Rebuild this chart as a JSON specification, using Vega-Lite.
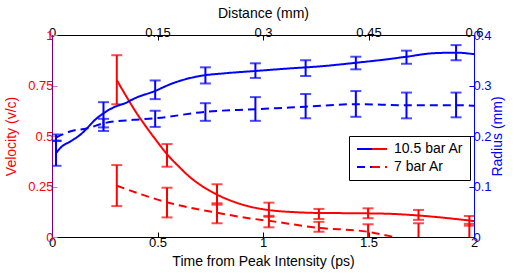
{
  "$schema": "https://vega.github.io/schema/vega-lite/v6.json",
  "width": 422,
  "height": 202,
  "autosize": {"type": "none"},
  "padding": {"left": 52, "top": 35, "right": 40, "bottom": 36},
  "config": {
    "font": "Liberation Sans",
    "view": {"stroke": null},
    "axis": {
      "grid": false,
      "labelFontSize": 13,
      "titleFontSize": 14,
      "titleFontWeight": "normal",
      "tickSize": -5,
      "labelPadding": 4,
      "domainWidth": 1,
      "labelFlush": false,
      "labelExpr": "'' + datum.value"
    }
  },
  "datasets": {
    "vcurve": [
      {"series": "10.5 bar Ar", "t": 0.307, "v": 0.777},
      {"series": "10.5 bar Ar", "t": 0.35, "v": 0.70},
      {"series": "10.5 bar Ar", "t": 0.40, "v": 0.615},
      {"series": "10.5 bar Ar", "t": 0.45, "v": 0.54},
      {"series": "10.5 bar Ar", "t": 0.50, "v": 0.47},
      {"series": "10.5 bar Ar", "t": 0.545, "v": 0.41},
      {"series": "10.5 bar Ar", "t": 0.60, "v": 0.35},
      {"series": "10.5 bar Ar", "t": 0.65, "v": 0.30},
      {"series": "10.5 bar Ar", "t": 0.70, "v": 0.26},
      {"series": "10.5 bar Ar", "t": 0.782, "v": 0.21},
      {"series": "10.5 bar Ar", "t": 0.86, "v": 0.175},
      {"series": "10.5 bar Ar", "t": 0.94, "v": 0.15},
      {"series": "10.5 bar Ar", "t": 1.03, "v": 0.133},
      {"series": "10.5 bar Ar", "t": 1.15, "v": 0.123},
      {"series": "10.5 bar Ar", "t": 1.26, "v": 0.119},
      {"series": "10.5 bar Ar", "t": 1.40, "v": 0.118},
      {"series": "10.5 bar Ar", "t": 1.50, "v": 0.117},
      {"series": "10.5 bar Ar", "t": 1.62, "v": 0.114},
      {"series": "10.5 bar Ar", "t": 1.73, "v": 0.107},
      {"series": "10.5 bar Ar", "t": 1.85, "v": 0.096},
      {"series": "10.5 bar Ar", "t": 2.0, "v": 0.079},
      {"series": "7 bar Ar", "t": 0.307, "v": 0.254},
      {"series": "7 bar Ar", "t": 0.545, "v": 0.172},
      {"series": "7 bar Ar", "t": 0.782, "v": 0.12},
      {"series": "7 bar Ar", "t": 0.94, "v": 0.092},
      {"series": "7 bar Ar", "t": 1.028, "v": 0.08},
      {"series": "7 bar Ar", "t": 1.257, "v": 0.046},
      {"series": "7 bar Ar", "t": 1.495, "v": 0.026},
      {"series": "7 bar Ar", "t": 1.62, "v": 0.0},
      {"series": "7 bar Ar", "t": 1.74, "v": -0.03},
      {"series": "7 bar Ar", "t": 2.0, "v": -0.08}
    ],
    "vbars": [
      {"series": "10.5 bar Ar", "t": 0.307, "lo": 0.657, "hi": 0.90},
      {"series": "10.5 bar Ar", "t": 0.545, "lo": 0.348, "hi": 0.46},
      {"series": "10.5 bar Ar", "t": 0.782, "lo": 0.16, "hi": 0.261},
      {"series": "10.5 bar Ar", "t": 1.028, "lo": 0.10, "hi": 0.17},
      {"series": "10.5 bar Ar", "t": 1.265, "lo": 0.089, "hi": 0.139},
      {"series": "10.5 bar Ar", "t": 1.498, "lo": 0.093, "hi": 0.142},
      {"series": "10.5 bar Ar", "t": 1.737, "lo": 0.085, "hi": 0.134},
      {"series": "10.5 bar Ar", "t": 1.978, "lo": 0.056, "hi": 0.104},
      {"series": "7 bar Ar", "t": 0.307, "lo": 0.153, "hi": 0.356},
      {"series": "7 bar Ar", "t": 0.545, "lo": 0.097, "hi": 0.244},
      {"series": "7 bar Ar", "t": 0.782, "lo": 0.068, "hi": 0.167},
      {"series": "7 bar Ar", "t": 1.028, "lo": 0.048, "hi": 0.105},
      {"series": "7 bar Ar", "t": 1.265, "lo": 0.026, "hi": 0.075},
      {"series": "7 bar Ar", "t": 1.498, "lo": -0.011, "hi": 0.063},
      {"series": "7 bar Ar", "t": 1.737, "lo": -0.12, "hi": 0.068},
      {"series": "7 bar Ar", "t": 1.978, "lo": -0.12, "hi": 0.065}
    ],
    "rcurve": [
      {"series": "10.5 bar Ar", "t": 0.019, "r": 0.166},
      {"series": "10.5 bar Ar", "t": 0.046, "r": 0.179},
      {"series": "10.5 bar Ar", "t": 0.086, "r": 0.189},
      {"series": "10.5 bar Ar", "t": 0.141, "r": 0.205},
      {"series": "10.5 bar Ar", "t": 0.165, "r": 0.215},
      {"series": "10.5 bar Ar", "t": 0.204, "r": 0.232},
      {"series": "10.5 bar Ar", "t": 0.244, "r": 0.245},
      {"series": "10.5 bar Ar", "t": 0.299, "r": 0.258},
      {"series": "10.5 bar Ar", "t": 0.347, "r": 0.265},
      {"series": "10.5 bar Ar", "t": 0.394, "r": 0.275},
      {"series": "10.5 bar Ar", "t": 0.481, "r": 0.288},
      {"series": "10.5 bar Ar", "t": 0.576, "r": 0.305},
      {"series": "10.5 bar Ar", "t": 0.703, "r": 0.319},
      {"series": "10.5 bar Ar", "t": 0.814, "r": 0.324},
      {"series": "10.5 bar Ar", "t": 0.972, "r": 0.329},
      {"series": "10.5 bar Ar", "t": 1.131, "r": 0.334},
      {"series": "10.5 bar Ar", "t": 1.273, "r": 0.338},
      {"series": "10.5 bar Ar", "t": 1.44, "r": 0.345},
      {"series": "10.5 bar Ar", "t": 1.59, "r": 0.352},
      {"series": "10.5 bar Ar", "t": 1.68, "r": 0.357},
      {"series": "10.5 bar Ar", "t": 1.81, "r": 0.364},
      {"series": "10.5 bar Ar", "t": 1.915, "r": 0.365},
      {"series": "10.5 bar Ar", "t": 2.0, "r": 0.362},
      {"series": "7 bar Ar", "t": 0.019, "r": 0.197},
      {"series": "7 bar Ar", "t": 0.094, "r": 0.21},
      {"series": "7 bar Ar", "t": 0.165, "r": 0.215},
      {"series": "7 bar Ar", "t": 0.244, "r": 0.225},
      {"series": "7 bar Ar", "t": 0.386, "r": 0.232},
      {"series": "7 bar Ar", "t": 0.489, "r": 0.235},
      {"series": "7 bar Ar", "t": 0.727, "r": 0.248},
      {"series": "7 bar Ar", "t": 0.964, "r": 0.253},
      {"series": "7 bar Ar", "t": 1.2, "r": 0.258},
      {"series": "7 bar Ar", "t": 1.44, "r": 0.263},
      {"series": "7 bar Ar", "t": 1.68, "r": 0.261},
      {"series": "7 bar Ar", "t": 1.915, "r": 0.261},
      {"series": "7 bar Ar", "t": 2.0, "r": 0.26}
    ],
    "rbars": [
      {"series": "10.5 bar Ar", "t": 0.019, "lo": 0.141, "hi": 0.19},
      {"series": "10.5 bar Ar", "t": 0.244, "lo": 0.217, "hi": 0.267},
      {"series": "10.5 bar Ar", "t": 0.489, "lo": 0.273, "hi": 0.31},
      {"series": "10.5 bar Ar", "t": 0.727, "lo": 0.304, "hi": 0.336},
      {"series": "10.5 bar Ar", "t": 0.964, "lo": 0.315, "hi": 0.344},
      {"series": "10.5 bar Ar", "t": 1.202, "lo": 0.319, "hi": 0.35},
      {"series": "10.5 bar Ar", "t": 1.44, "lo": 0.332, "hi": 0.357},
      {"series": "10.5 bar Ar", "t": 1.68, "lo": 0.343, "hi": 0.369},
      {"series": "10.5 bar Ar", "t": 1.915, "lo": 0.35, "hi": 0.38},
      {"series": "7 bar Ar", "t": 0.019, "lo": 0.191, "hi": 0.203},
      {"series": "7 bar Ar", "t": 0.244, "lo": 0.21, "hi": 0.234},
      {"series": "7 bar Ar", "t": 0.489, "lo": 0.218, "hi": 0.25},
      {"series": "7 bar Ar", "t": 0.727, "lo": 0.23, "hi": 0.265},
      {"series": "7 bar Ar", "t": 0.964, "lo": 0.23, "hi": 0.277},
      {"series": "7 bar Ar", "t": 1.202, "lo": 0.235, "hi": 0.283},
      {"series": "7 bar Ar", "t": 1.44, "lo": 0.238, "hi": 0.289},
      {"series": "7 bar Ar", "t": 1.68, "lo": 0.235, "hi": 0.286},
      {"series": "7 bar Ar", "t": 1.915, "lo": 0.237, "hi": 0.286}
    ],
    "dist": [{"d": 0}, {"d": 0.6}]
  },
  "layer": [
    {
      "encoding": {
        "x": {
          "field": "t", "type": "quantitative",
          "scale": {"domain": [0, 2], "nice": false, "zero": false},
          "axis": {"orient": "bottom", "title": "Time from Peak Intensity (ps)", "values": [0, 0.5, 1, 1.5, 2], "domainColor": "#000000", "tickColor": "#000000", "labelColor": "#000000", "titleColor": "#000000", "titlePadding": 5}
        }
      },
      "layer": [
        {
          "data": {"name": "vcurve"},
          "mark": {"type": "line", "color": "#ff0000", "strokeWidth": 2, "clip": true, "interpolate": "monotone"},
          "encoding": {
            "y": {"field": "v", "type": "quantitative", "title": "Velocity (v/c)",
              "scale": {"domain": [0, 1], "nice": false},
              "axis": {"orient": "left", "values": [0, 0.25, 0.5, 0.75, 1], "domainColor": "#800080", "tickColor": "#cc77cc", "labelColor": "#ff0000", "titleColor": "#ff0000", "titlePadding": 9}},
            "strokeDash": {"field": "series", "type": "nominal",
              "scale": {"domain": ["10.5 bar Ar", "7 bar Ar"], "range": [[1, 0], [8, 5]]},
              "legend": {"orient": "none", "legendX": 297, "legendY": 101, "title": null, "symbolType": "M2,0H5", "symbolSize": 100, "symbolStrokeWidth": 2, "symbolStrokeColor": "#ff0000", "labelFontSize": 14, "labelOffset": 25, "labelOpacity": 0, "rowPadding": 4, "padding": 6}}
          }
        },
        {
          "data": {"name": "vbars"},
          "mark": {"type": "rule", "color": "#ff0000", "strokeWidth": 2, "clip": true},
          "encoding": {
            "y": {"field": "lo", "type": "quantitative", "title": "Velocity (v/c)"},
            "y2": {"field": "hi"}
          }
        },
        {
          "data": {"name": "vbars"},
          "mark": {"type": "tick", "color": "#ff0000", "orient": "horizontal", "size": 11, "thickness": 2, "clip": true},
          "encoding": {"y": {"field": "lo", "type": "quantitative", "title": "Velocity (v/c)"}}
        },
        {
          "data": {"name": "vbars"},
          "mark": {"type": "tick", "color": "#ff0000", "orient": "horizontal", "size": 11, "thickness": 2, "clip": true},
          "encoding": {"y": {"field": "hi", "type": "quantitative", "title": "Velocity (v/c)"}}
        }
      ]
    },
    {
      "encoding": {
        "x": {
          "field": "t", "type": "quantitative",
          "scale": {"domain": [0, 2], "nice": false, "zero": false},
          "axis": null
        }
      },
      "layer": [
        {
          "data": {"name": "rcurve"},
          "mark": {"type": "line", "color": "#0000ff", "strokeWidth": 2, "clip": true, "interpolate": "monotone"},
          "encoding": {
            "y": {"field": "r", "type": "quantitative", "title": "Radius (mm)",
              "scale": {"domain": [0, 0.4], "nice": false},
              "axis": {"orient": "right", "values": [0, 0.1, 0.2, 0.3, 0.4], "domainColor": "#0000ff", "tickColor": "#0000ff", "labelColor": "#0000ff", "titleColor": "#0000ff", "titleAngle": 270, "titlePadding": 13}},
            "strokeDash": {"field": "series", "type": "nominal",
              "scale": {"domain": ["10.5 bar Ar", "7 bar Ar"], "range": [[1, 0], [8, 5]]},
              "legend": {"orient": "none", "legendX": 297, "legendY": 101, "title": null, "symbolType": "M-1,0H2", "symbolSize": 100, "symbolStrokeWidth": 2, "symbolStrokeColor": "#0000ff", "labelFontSize": 14, "labelOffset": 25, "labelColor": "#000000", "rowPadding": 4, "padding": 6, "strokeColor": "#000000"}}
          }
        },
        {
          "data": {"name": "rbars"},
          "mark": {"type": "rule", "color": "#0000ff", "strokeWidth": 2, "clip": true},
          "encoding": {
            "y": {"field": "lo", "type": "quantitative", "title": "Radius (mm)"},
            "y2": {"field": "hi"}
          }
        },
        {
          "data": {"name": "rbars"},
          "mark": {"type": "tick", "color": "#0000ff", "orient": "horizontal", "size": 11, "thickness": 2, "clip": true},
          "encoding": {"y": {"field": "lo", "type": "quantitative", "title": "Radius (mm)"}}
        },
        {
          "data": {"name": "rbars"},
          "mark": {"type": "tick", "color": "#0000ff", "orient": "horizontal", "size": 11, "thickness": 2, "clip": true},
          "encoding": {"y": {"field": "hi", "type": "quantitative", "title": "Radius (mm)"}}
        }
      ]
    },
    {
      "data": {"name": "dist"},
      "mark": {"type": "rule", "opacity": 0},
      "encoding": {
        "x": {"field": "d", "type": "quantitative",
          "scale": {"domain": [0, 0.6], "nice": false, "zero": false},
          "axis": {"orient": "top", "title": "Distance (mm)", "values": [0, 0.15, 0.3, 0.45, 0.6], "domainColor": "#000000", "tickColor": "#000000", "labelColor": "#000000", "titleColor": "#000000", "labelPadding": 1, "titlePadding": 6}}
      }
    }
  ],
  "resolve": {"scale": {"x": "independent", "y": "independent", "strokeDash": "independent"}}
}
